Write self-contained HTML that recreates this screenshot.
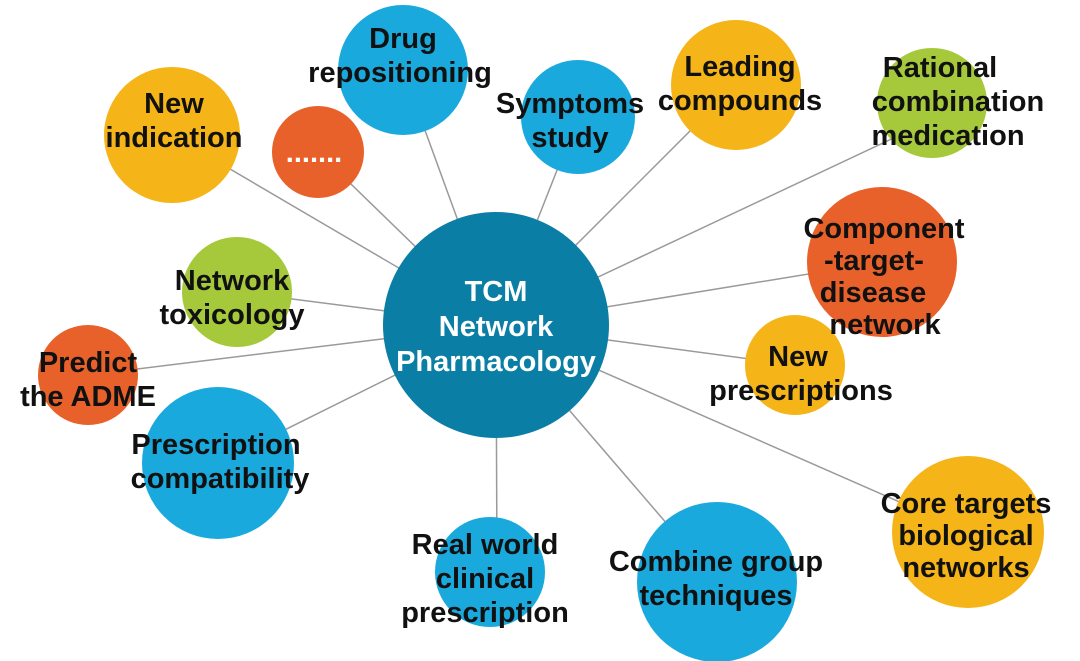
<!DOCTYPE html>
<html><head><meta charset="utf-8"><style>
html,body{margin:0;padding:0;background:#fff;}
svg{display:block;}
text{font-family:"Liberation Sans",Arial,sans-serif;font-weight:bold;font-size:29px;fill:#111;text-anchor:middle;}
</style></head><body>
<svg width="1080" height="661" viewBox="0 0 1080 661">
<g stroke="#9a9a9a" stroke-width="1.5">
<line x1="496" y1="325" x2="403" y2="70"/>
<line x1="496" y1="325" x2="172" y2="135"/>
<line x1="496" y1="325" x2="318" y2="152"/>
<line x1="496" y1="325" x2="578" y2="117"/>
<line x1="496" y1="325" x2="736" y2="85"/>
<line x1="496" y1="325" x2="900" y2="135"/>
<line x1="496" y1="325" x2="882" y2="262"/>
<line x1="496" y1="325" x2="795" y2="365"/>
<line x1="496" y1="325" x2="968" y2="532"/>
<line x1="496" y1="325" x2="717" y2="582"/>
<line x1="496" y1="325" x2="497" y2="572"/>
<line x1="496" y1="325" x2="218" y2="463"/>
<line x1="496" y1="325" x2="88" y2="375"/>
<line x1="496" y1="325" x2="237" y2="292"/>
</g>
<circle cx="403" cy="70" r="65" fill="#1aa9dc"/>
<circle cx="172" cy="135" r="68" fill="#f5b417"/>
<circle cx="318" cy="152" r="46" fill="#e8612a"/>
<circle cx="578" cy="117" r="57" fill="#1aa9dc"/>
<circle cx="736" cy="85" r="65" fill="#f5b417"/>
<circle cx="932" cy="103" r="55" fill="#a6c93c"/>
<circle cx="882" cy="262" r="75" fill="#e8612a"/>
<circle cx="795" cy="365" r="50" fill="#f5b417"/>
<circle cx="968" cy="532" r="76" fill="#f5b417"/>
<circle cx="717" cy="582" r="80" fill="#1aa9dc"/>
<circle cx="490" cy="572" r="55" fill="#1aa9dc"/>
<circle cx="218" cy="463" r="76" fill="#1aa9dc"/>
<circle cx="88" cy="375" r="50" fill="#e8612a"/>
<circle cx="237" cy="292" r="55" fill="#a6c93c"/>
<circle cx="496" cy="325" r="113" fill="#0b7ea5"/>
<text x="496" y="301" style="fill:#fff">TCM</text>
<text x="496" y="336" style="fill:#fff">Network</text>
<text x="496" y="371" style="fill:#fff">Pharmacology</text>
<text x="403" y="48">Drug</text>
<text x="400" y="82">repositioning</text>
<text x="174" y="113">New</text>
<text x="174" y="147">indication</text>
<text x="314" y="162" style="fill:#fff">.......</text>
<text x="570" y="113">Symptoms</text>
<text x="570" y="147">study</text>
<text x="740" y="76">Leading</text>
<text x="740" y="110">compounds</text>
<text x="940" y="77">Rational</text>
<text x="958" y="111">combination</text>
<text x="948" y="145">medication</text>
<text x="884" y="238">Component</text>
<text x="874" y="270">-target-</text>
<text x="873" y="302">disease</text>
<text x="885" y="334">network</text>
<text x="798" y="366">New</text>
<text x="801" y="400">prescriptions</text>
<text x="966" y="513">Core targets</text>
<text x="966" y="545">biological</text>
<text x="966" y="577">networks</text>
<text x="716" y="571">Combine group</text>
<text x="716" y="605">techniques</text>
<text x="485" y="554">Real world</text>
<text x="485" y="588">clinical</text>
<text x="485" y="622">prescription</text>
<text x="216" y="454">Prescription</text>
<text x="220" y="488">compatibility</text>
<text x="88" y="372">Predict</text>
<text x="88" y="406">the ADME</text>
<text x="232" y="290">Network</text>
<text x="232" y="324">toxicology</text>
</svg>
</body></html>
